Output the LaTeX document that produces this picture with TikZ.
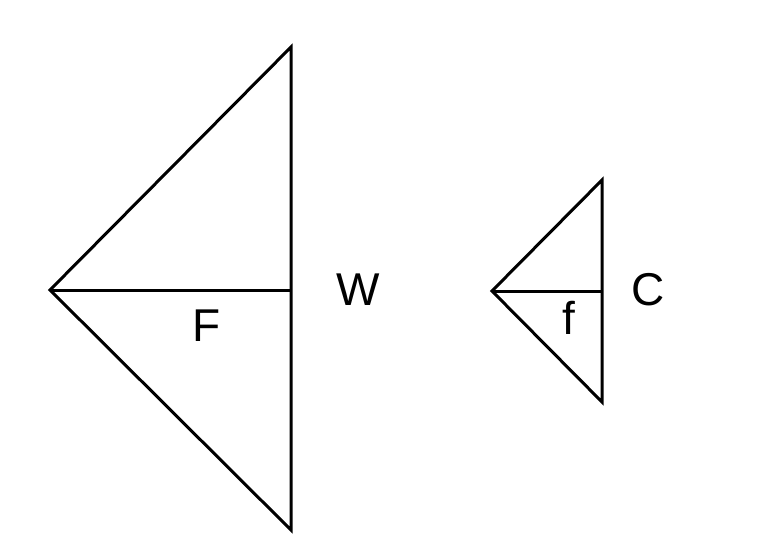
\documentclass[tikz,border=0pt]{standalone}
\usepackage{fontspec}
\setmainfont{Liberation Sans}
\begin{document}
\begin{tikzpicture}[x=1pt,y=-1pt,
  edge/.style={line width=3pt,line join=miter},
  lbl/.style={font=\fontsize{46}{50}\selectfont,inner sep=0pt}]
\useasboundingbox (0,0) rectangle (758,554);
\coordinate (A) at (50,290);
\coordinate (B) at (291,47);
\coordinate (Cb) at (291,530);
\coordinate (M) at (291,290);
\draw[edge] (A) -- (B) -- (Cb) -- cycle;
\draw[edge] (A) -- (M);
\coordinate (a) at (492,291);
\coordinate (b) at (602,180);
\coordinate (c) at (602,402);
\coordinate (m) at (602,291);
\draw[edge] (a) -- (b) -- (c) -- cycle;
\draw[edge] (a) -- (m);
\node[lbl] (F) at (207,326) {F};
\node[lbl] (W) at (358,290) {W};
\node[lbl] (f) at (569,318) {f};
\node[lbl] (C) at (648,290) {C};
\end{tikzpicture}
\end{document}
